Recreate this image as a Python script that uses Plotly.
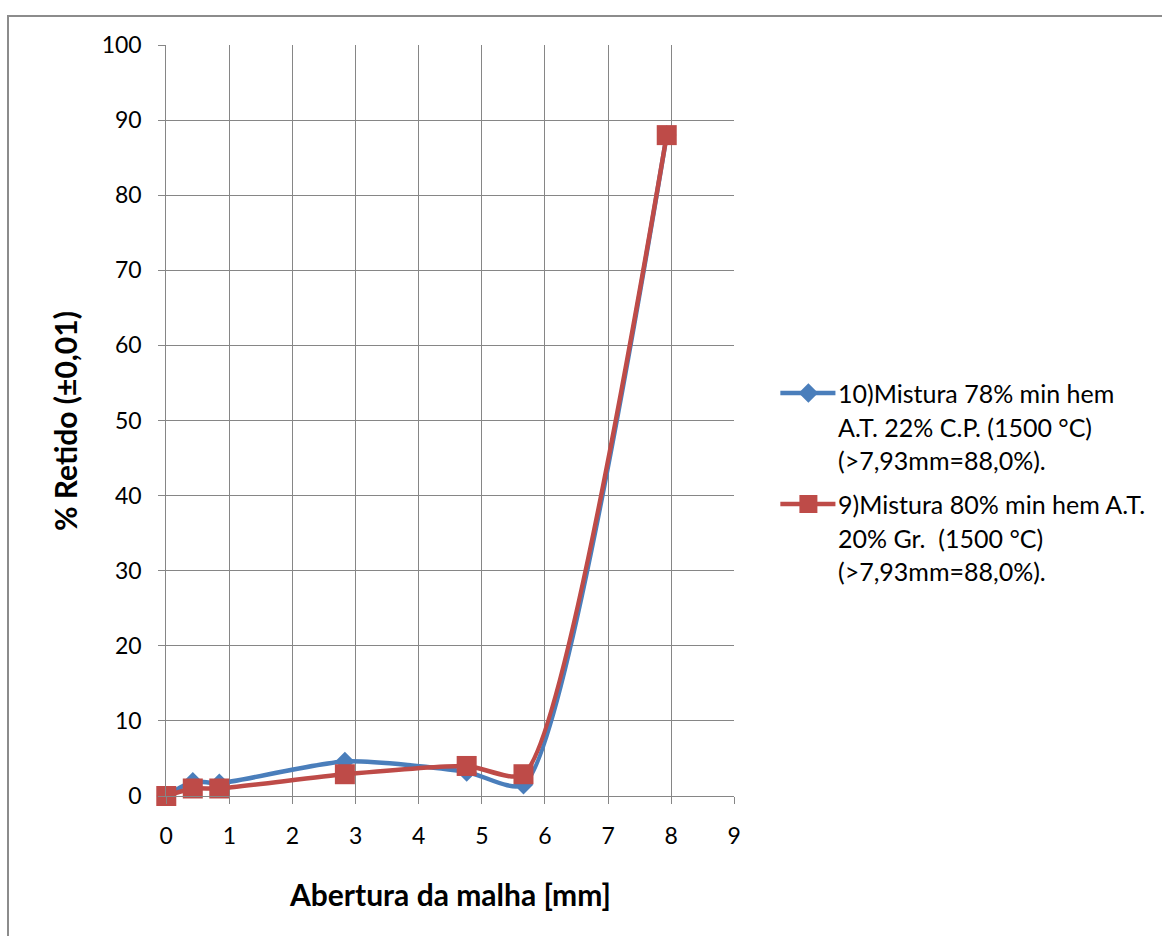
import plotly.graph_objects as go

W, H = 1162, 936
# drawing area actually given to the figure on the page
OX, OY, PW, PH = 8, 14, 1146, 908

# sieve openings (mm) and retained percentages
abertura = [0, 0.42, 0.84, 2.83, 4.76, 5.66, 7.93]
mistura10 = [0, 1.9, 1.7, 4.6, 3.2, 1.5, 88.0]
mistura9 = [0, 1.0, 1.0, 2.9, 4.0, 2.9, 88.0]

nome10 = ["10)Mistura 78% min hem", "A.T. 22% C.P. (1500 °C)", "(>7,93mm=88,0%)."]
nome9 = ["9)Mistura 80% min hem A.T.", "20% Gr.  (1500 °C)", "(>7,93mm=88,0%)."]

x_ticks = list(range(0, 10))
y_ticks = list(range(0, 101, 10))

AZUL = "#4A7EBB"
VERMELHO = "#BE4B48"
GRADE = "#868686"
FONTE = "Lato"
SUAV = 0.65


def px(x):
    return (x - OX) / PW


def py(y):
    return 1 - (y - OY) / PH


# plot area in pixels
L, R, T, B = 167, 734, 44, 795
# legend key box in pixels
KL, KR, KT, KB = 770, 850, 370, 530

fig = go.Figure()

fig.add_trace(go.Scatter(
    x=abertura, y=mistura10, mode="lines+markers",
    line=dict(color=AZUL, width=4.5, shape="spline", smoothing=SUAV),
    marker=dict(symbol="diamond", size=15, color=AZUL),
    showlegend=False, cliponaxis=False,
))
fig.add_trace(go.Scatter(
    x=abertura, y=mistura9, mode="lines+markers",
    line=dict(color=VERMELHO, width=4.5, shape="spline", smoothing=SUAV),
    marker=dict(symbol="square", size=20, color=VERMELHO),
    showlegend=False, cliponaxis=False,
))

# legend keys on a small pixel-space axis pair
leg_y = [392, 503]
for cor, simb, tam, yy in [(AZUL, "diamond", 15, leg_y[0]), (VERMELHO, "square", 18, leg_y[1])]:
    fig.add_trace(go.Scatter(
        x=[780, 808, 835], y=[yy, yy, yy], mode="lines",
        line=dict(color=cor, width=4.5), showlegend=False,
        xaxis="x2", yaxis="y2", hoverinfo="skip",
    ))
    fig.add_trace(go.Scatter(
        x=[808], y=[yy], mode="markers",
        marker=dict(symbol=simb, size=tam, color=cor), showlegend=False,
        xaxis="x2", yaxis="y2", hoverinfo="skip",
    ))

annotations = []
for linhas, y0 in [(nome10, 392), (nome9, 503)]:
    for i, t in enumerate(linhas):
        annotations.append(dict(
            x=px(836), y=py(y0 + i * 33.5), xref="paper", yref="paper",
            text=t, showarrow=False, xanchor="left", yanchor="middle",
            font=dict(family=FONTE, size=25, color="#000000"),
        ))

annotations.append(dict(
    x=px(450), y=py(893), xref="paper", yref="paper",
    text="<b>Abertura da malha [mm]</b>", showarrow=False,
    xanchor="center", yanchor="middle",
    font=dict(family=FONTE, size=30, color="#000000"),
))
annotations.append(dict(
    x=px(66), y=py(420), xref="paper", yref="paper",
    text="<b>% Retido (±0,01)</b>", showarrow=False, textangle=-90,
    xanchor="center", yanchor="middle",
    font=dict(family=FONTE, size=30, color="#000000"),
))

fig.update_layout(
    width=W, height=H,
    margin=dict(l=0, r=0, t=0, b=0),
    paper_bgcolor="white", plot_bgcolor="rgba(0,0,0,0)",
    font=dict(family=FONTE, size=23, color="#000000"),
    xaxis=dict(
        domain=[px(L), px(R)], range=[0, 9], tickvals=x_ticks,
        showgrid=True, gridcolor=GRADE, gridwidth=1,
        showline=True, linecolor=GRADE, linewidth=1,
        ticks="outside", ticklen=7, tickcolor=GRADE,
        ticklabelstandoff=12, zeroline=False, fixedrange=True,
        tickfont=dict(family=FONTE, size=23),
    ),
    yaxis=dict(
        domain=[py(B), py(T)], range=[0, 100], tickvals=y_ticks,
        showgrid=True, gridcolor=GRADE, gridwidth=1,
        showline=True, linecolor=GRADE, linewidth=1,
        ticks="outside", ticklen=7, tickcolor=GRADE,
        ticklabelstandoff=12, zeroline=False, fixedrange=True,
        tickfont=dict(family=FONTE, size=23),
    ),
    xaxis2=dict(domain=[px(KL), px(KR)], range=[KL, KR], visible=False,
                fixedrange=True, anchor="y2"),
    yaxis2=dict(domain=[py(KB), py(KT)], range=[KB, KT], visible=False,
                fixedrange=True, anchor="x2"),
    annotations=annotations,
    shapes=[dict(
        type="rect", xref="paper", yref="paper",
        x0=px(9), x1=px(W + 10), y0=py(H + 10), y1=py(15),
        line=dict(color="#8C8C8C", width=2), layer="below",
    )],
)

fig.write_html("out.html")
